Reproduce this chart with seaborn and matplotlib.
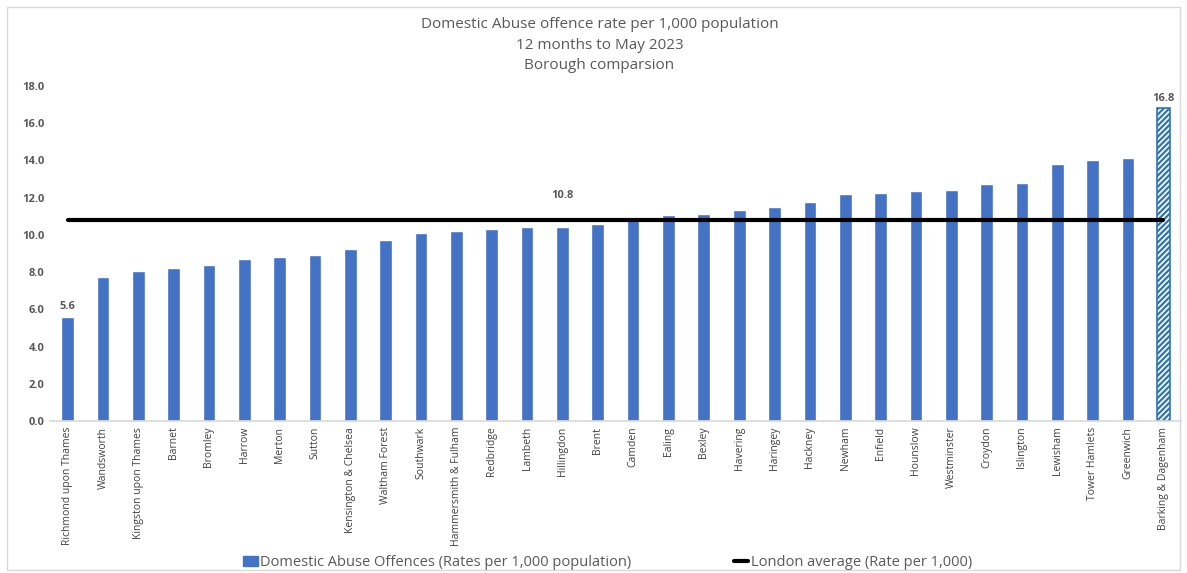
import matplotlib
matplotlib.use("Agg")
import matplotlib.pyplot as plt
import seaborn as sns
import pandas as pd
from matplotlib.patches import Patch, Rectangle
from matplotlib.lines import Line2D

boroughs = ["Richmond upon Thames", "Wandsworth", "Kingston upon Thames", "Barnet", "Bromley",
            "Harrow", "Merton", "Sutton", "Kensington & Chelsea", "Waltham Forest", "Southwark",
            "Hammersmith & Fulham", "Redbridge", "Lambeth", "Hillingdon", "Brent", "Camden",
            "Ealing", "Bexley", "Havering", "Haringey", "Hackney", "Newham", "Enfield",
            "Hounslow", "Westminster", "Croydon", "Islington", "Lewisham", "Tower Hamlets",
            "Greenwich", "Barking & Dagenham"]
rates = [5.6, 7.74, 8.06, 8.22, 8.38, 8.70, 8.81, 8.92, 9.24, 9.73, 10.10, 10.21, 10.32, 10.42,
         10.45, 10.60, 10.92, 11.07, 11.14, 11.35, 11.52, 11.75, 12.20, 12.25, 12.36, 12.40,
         12.75, 12.78, 13.80, 14.00, 14.15, 16.8]
london_avg = 10.8
labelled = {"Richmond upon Thames": "5.6", "Barking & Dagenham": "16.8"}
y_ticks = [0, 2, 4, 6, 8, 10, 12, 14, 16, 18]

sns.set_theme(style="white")
plt.rcParams['font.family'] = ['Open Sans', 'DejaVu Sans']
plt.rcParams['hatch.linewidth'] = 1.6
plt.rcParams['hatch.color'] = "#2E75B6"

BLUE = "#4472C4"
GREY = "#595959"

fig = plt.figure(figsize=(11.87, 5.73), dpi=100)
ax = fig.add_axes([0.042, 0.265, 0.953, 0.585])

df = pd.DataFrame({"borough": boroughs, "rate": rates})
sns.barplot(data=df, x="borough", y="rate", color=BLUE, width=0.36, saturation=1,
            ax=ax, order=boroughs)

# last bar hatched
last = ax.patches[len(boroughs) - 1]
last.set_facecolor("white")
last.set_edgecolor("#2E75B6")
last.set_hatch("//////")
last.set_linewidth(1.2)

n = len(boroughs)
ax.plot(range(n), [london_avg] * n, color="black", lw=3, zorder=5)

for i, b in enumerate(boroughs):
    if b in labelled:
        ax.text(i, rates[i] + 0.25, labelled[b], ha="center", va="bottom", fontsize=8,
                fontweight="bold", color=GREY)
hi = boroughs.index("Hillingdon")
ax.text(hi, london_avg + 1.0, f"{london_avg:.1f}", ha="center", va="bottom", fontsize=8,
        fontweight="bold", color=GREY)

ax.set_ylim(0, 18)
ax.set_xlim(-0.5, n - 0.5)
ax.set_yticks(y_ticks)
ax.set_yticklabels([f"{v:.1f}" for v in y_ticks], fontsize=8, fontweight="bold", color=GREY)
ax.set_xticks(range(n))
ax.set_xticklabels(boroughs, rotation=90, fontsize=7.5, color="#404040")
ax.tick_params(axis="both", length=0, pad=4)
ax.set_xlabel("")
ax.set_ylabel("")
for s in ["top", "right", "left"]:
    ax.spines[s].set_visible(False)
ax.spines["bottom"].set_color("#D9D9D9")
ax.grid(False)

fig.text(0.505, 0.97, "Domestic Abuse offence rate per 1,000 population\n12 months to May 2023\nBorough comparsion",
         ha="center", va="top", fontsize=11, color=GREY, linespacing=1.5)

handles = [Patch(facecolor=BLUE, edgecolor=BLUE),
           Line2D([0], [0], color="black", lw=3)]
labels = ["Domestic Abuse Offences (Rates per 1,000 population)", "London average (Rate per 1,000)"]
leg = fig.legend(handles, labels, loc="lower center", bbox_to_anchor=(0.512, -0.018), ncol=2,
                 frameon=False, fontsize=10.5, handlelength=1.0, handletextpad=0.2,
                 columnspacing=7)
for t in leg.get_texts():
    t.set_color(GREY)

fig.patches.append(Rectangle((0.006, 0.005), 0.988, 0.982, transform=fig.transFigure,
                             fill=False, edgecolor="#D9D9D9", lw=1))

fig.savefig("out.png", dpi=100, facecolor="white")
